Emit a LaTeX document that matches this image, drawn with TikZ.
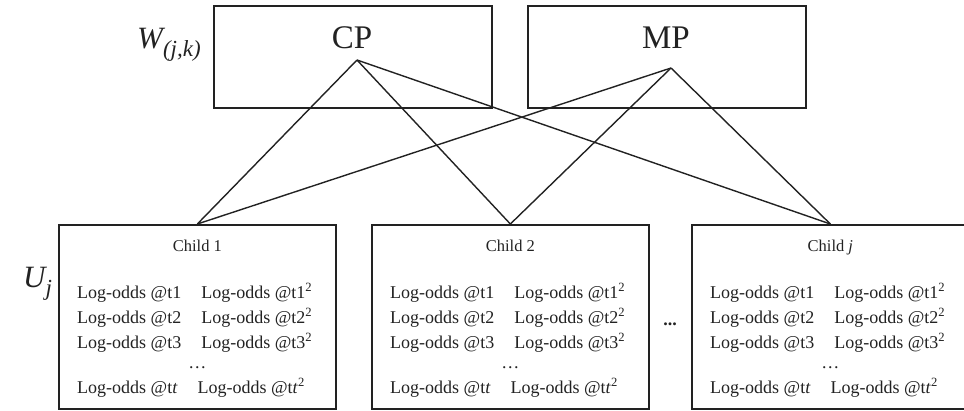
\documentclass[tikz,border=0pt]{standalone}
\usepackage{fontspec}
\setmainfont{Liberation Serif}
\definecolor{ink}{HTML}{222222}

% body of one child box: title, four log-odds rows and an ellipsis
\newcommand{\logrows}[2]{%
  \path (#1.north) ++(0,27) node[title] {#2};
  \path (#1.north west) ++(19,74)  node[row] {Log-odds @t1\hspace*{20pt}Log-odds @t1\textsuperscript{2}};
  \path (#1.north west) ++(19,99)  node[row] {Log-odds @t2\hspace*{20pt}Log-odds @t2\textsuperscript{2}};
  \path (#1.north west) ++(19,124) node[row] {Log-odds @t3\hspace*{20pt}Log-odds @t3\textsuperscript{2}};
  \path (#1.north) ++(0,144) node[row, anchor=base] {\ldots};
  \path (#1.north west) ++(19,169) node[row] {Log-odds @t\textit{t}\hspace*{20pt}Log-odds @t\textit{t}\textsuperscript{2}};
}

\begin{document}
\begin{tikzpicture}[x=1pt, y=-1pt,
  box/.style={draw=ink, line width=1.7pt, rectangle, inner sep=0pt, anchor=north west},
  parent/.style={box, minimum width=278pt, minimum height=102pt},
  child/.style={box, minimum width=277pt, minimum height=184pt},
  link/.style={draw=ink, line width=1.4pt},
  big/.style={anchor=base, inner sep=0pt, text=ink, font=\fontsize{33}{36}\selectfont},
  title/.style={anchor=base, inner sep=0pt, text=ink, font=\fontsize{16.5}{18}\selectfont},
  row/.style={anchor=base west, inner sep=0pt, text=ink, font=\fontsize{18}{20}\selectfont},
  side/.style={anchor=base west, inner sep=0pt, text=ink}]

\useasboundingbox (0,0) rectangle (964,410);

% parent nodes
\node[parent] (cp) at (213,5) {};
\node[parent] (mp) at (527,5) {};
\node[big] (cpt) at (352,48) {CP};
\node[big] (mpt) at (666,48) {MP};
\coordinate (cpapex) at (357,60);
\coordinate (mpapex) at (671,68);

% child nodes
\node[child] (c1) at (58,224) {};
\node[child] (c2) at (371,224) {};
\node[child] (cj) at (691,224) {};
\logrows{c1}{Child 1}
\logrows{c2}{Child 2}
\logrows{cj}{Child \textit{j}}

% connections
\foreach \p in {cpapex, mpapex}
  \foreach \c in {c1, c2, cj}
    \draw[link, line join=miter] (\p) -- (\c.north);

% side labels
\node[side] (wlab) at (137,48) {{\fontsize{31}{34}\selectfont\itshape W}\raisebox{-8pt}{\fontsize{23}{26}\selectfont\itshape (j,k)}};
\node[side] (ulab) at (23,287) {{\fontsize{31}{34}\selectfont\itshape U}\raisebox{-8pt}{\fontsize{23}{26}\selectfont\itshape j}};

% ellipsis between the children
\node[row, anchor=base, font=\fontsize{18}{20}\selectfont\bfseries] (more) at (670,325) {...};
\end{tikzpicture}
\end{document}
